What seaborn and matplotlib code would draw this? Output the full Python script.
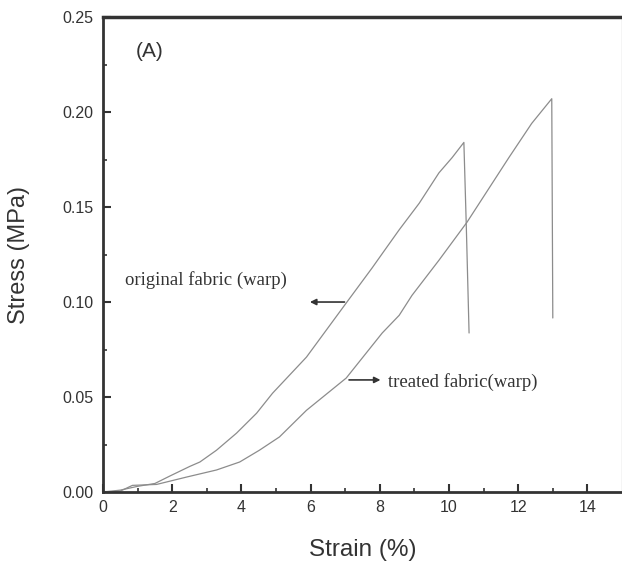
import numpy as np
import pandas as pd
import seaborn as sns
import matplotlib.pyplot as plt

# values
strain_orig = [0, 0.5, 1.0, 1.5, 1.93, 2.51, 2.8, 3.28, 3.86, 4.44, 4.9, 5.88,
               7.03, 7.78, 8.13, 8.56, 9.14, 9.71, 10.09, 10.43, 10.5, 10.58]
stress_orig = [0, 0.001, 0.003, 0.0045, 0.0084, 0.0135, 0.0158, 0.022, 0.031, 0.0415, 0.052, 0.071,
               0.0995, 0.118, 0.127, 0.138, 0.152, 0.168, 0.176, 0.184, 0.140, 0.0837]

strain_treat = [0, 0.5, 0.85, 1.55, 2.42, 3.28, 3.95, 4.52, 5.1, 5.88, 7.03, 8.07,
                8.56, 8.93, 9.71, 10.52, 11.73, 12.39, 12.97, 13.0]
stress_treat = [0, 0.0005, 0.0035, 0.0040, 0.0079, 0.0116, 0.0158, 0.022, 0.029, 0.043, 0.060, 0.0837,
                0.093, 0.1035, 0.122, 0.142, 0.176, 0.194, 0.207, 0.0916]

orig = pd.DataFrame({'Strain': strain_orig, 'Stress': stress_orig})
treat = pd.DataFrame({'Strain': strain_treat, 'Stress': stress_treat})

sns.set_style("ticks")
plt.rcParams['font.family'] = ['Liberation Sans', 'DejaVu Sans']

fig = plt.figure(figsize=(6.22, 5.75), dpi=100)
ax = fig.add_axes([0.1656, 0.1443, 0.8344, 0.8261])

line_col = '#8c8c8c'
sns.lineplot(data=orig, x='Strain', y='Stress', sort=False, color=line_col, lw=0.9, ax=ax)
sns.lineplot(data=treat, x='Strain', y='Stress', sort=False, color=line_col, lw=0.9, ax=ax)

ax.set_xlim(0, 15)
ax.set_ylim(0, 0.25)
ax.set_xticks(np.arange(0, 15, 2))
ax.set_xticks(np.arange(1, 15, 2), minor=True)
ax.set_yticks(np.arange(0, 0.26, 0.05))
ax.set_yticks(np.arange(0.025, 0.25, 0.05), minor=True)
ax.set_yticklabels(['0.00', '0.05', '0.10', '0.15', '0.20', '0.25'])

ax.tick_params(which='major', direction='in', length=6, width=1.5, labelsize=11.5,
               colors='#333333')
ax.tick_params(which='minor', direction='in', length=3, width=1.2, colors='#333333')
ax.tick_params(axis='y', pad=7)
ax.tick_params(axis='x', pad=6)

for side in ['left', 'bottom', 'top']:
    ax.spines[side].set_color('#333333')
    ax.spines[side].set_linewidth(2)
ax.spines['top'].set_linewidth(2.5)
ax.spines['right'].set_color('#cccccc')
ax.spines['right'].set_linewidth(1)

ax.set_xlabel('Strain (%)', fontsize=17.5, color='#333333')
ax.set_ylabel('Stress (MPa)', fontsize=17, color='#333333')
ax.xaxis.set_label_coords(0.5, -0.099)
ax.yaxis.set_label_coords(-0.140, 0.5)

ax.text(0.95, 0.232, '(A)', fontsize=15, color='#333333', va='center')

serif = ['Liberation Serif', 'DejaVu Serif']
ax.text(0.63, 0.1116, 'original fabric (warp)', fontsize=13.5, family=serif,
        color='#333333', va='center')
ax.annotate('', xy=(5.9, 0.1), xytext=(7.06, 0.1),
            arrowprops=dict(arrowstyle='-|>', color='#333333', lw=1.2, mutation_scale=9))
ax.annotate('', xy=(8.1, 0.059), xytext=(7.03, 0.059),
            arrowprops=dict(arrowstyle='-|>', color='#333333', lw=1.2, mutation_scale=9))
ax.text(8.25, 0.058, 'treated fabric(warp)', fontsize=13.5, family=serif,
        color='#333333', va='center')

fig.savefig('out.png', dpi=100)
